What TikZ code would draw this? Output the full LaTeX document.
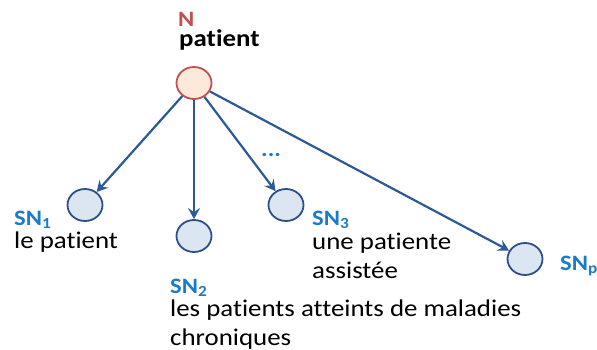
\documentclass[tikz,border=0pt]{standalone}
\usepackage{fontspec}
\setmainfont{Carlito}[Ligatures={NoCommon}, FakeStretch=1.12]
\usetikzlibrary{arrows.meta,shapes.geometric}
\definecolor{nodeblue}{HTML}{2B4F86}
\definecolor{nodefill}{HTML}{DCE6F2}
\definecolor{rootred}{HTML}{C0504D}
\definecolor{rootfill}{HTML}{FDE9D9}
\definecolor{lblblue}{HTML}{1A7CC9}
\definecolor{arrblue}{HTML}{2E5A94}
\tikzset{
  snnode/.style={ellipse, draw=nodeblue, fill=nodefill, line width=1.8pt, minimum width=35pt, minimum height=32pt, inner sep=0pt},
  rootnode/.style={ellipse, draw=rootred, fill=rootfill, line width=1.8pt, minimum width=35pt, minimum height=32pt, inner sep=0pt},
  conn/.style={draw=arrblue, line width=2.2pt, -{Stealth[length=11pt,width=12pt,inset=4pt]}},
  lbl/.style={font=\fontsize{22}{26}\selectfont\bfseries, text=lblblue, inner sep=0pt, anchor=base west},
  txt/.style={font=\fontsize{24}{28.5}\selectfont, text=black, inner sep=0pt, anchor=base west, align=left}
}
\begin{document}
\begin{tikzpicture}[x=1pt,y=-1pt]
\useasboundingbox (0,0) rectangle (597,350);
\node[rootnode] (n) at (194,83) {};
\node[snnode] (sn1) at (85,205) {};
\node[snnode] (sn2) at (194,236) {};
\node[snnode] (sn3) at (286,205) {};
\node[snnode] (snp) at (525,259) {};
\node[lbl, text=rootred] (nl) at (178,27) {N};
\node[txt, font=\fontsize{24}{28}\selectfont\bfseries] (pl) at (179,47) {patient};
\node[lbl] (l1) at (14,225) {SN\textsubscript{1}};
\node[txt] (t1) at (14,248) {le patient};
\node[lbl] (l2) at (170,293) {SN\textsubscript{2}};
\node[txt] (t2) at (170,345) {les patients atteints de maladies\\chroniques};
\node[lbl] (l3) at (312,225) {SN\textsubscript{3}};
\node[txt] (t3) at (312,278) {une patiente\\assistée};
\node[lbl] (lp) at (560,270) {SN\textsubscript{p}};
\node[lbl] (dots) at (261,157) {...};
\draw[conn] (n) -- (sn1);
\draw[conn] (n) -- (sn2);
\draw[conn] (n) -- (sn3);
\draw[conn] (n) -- (snp);
\end{tikzpicture}
\end{document}
